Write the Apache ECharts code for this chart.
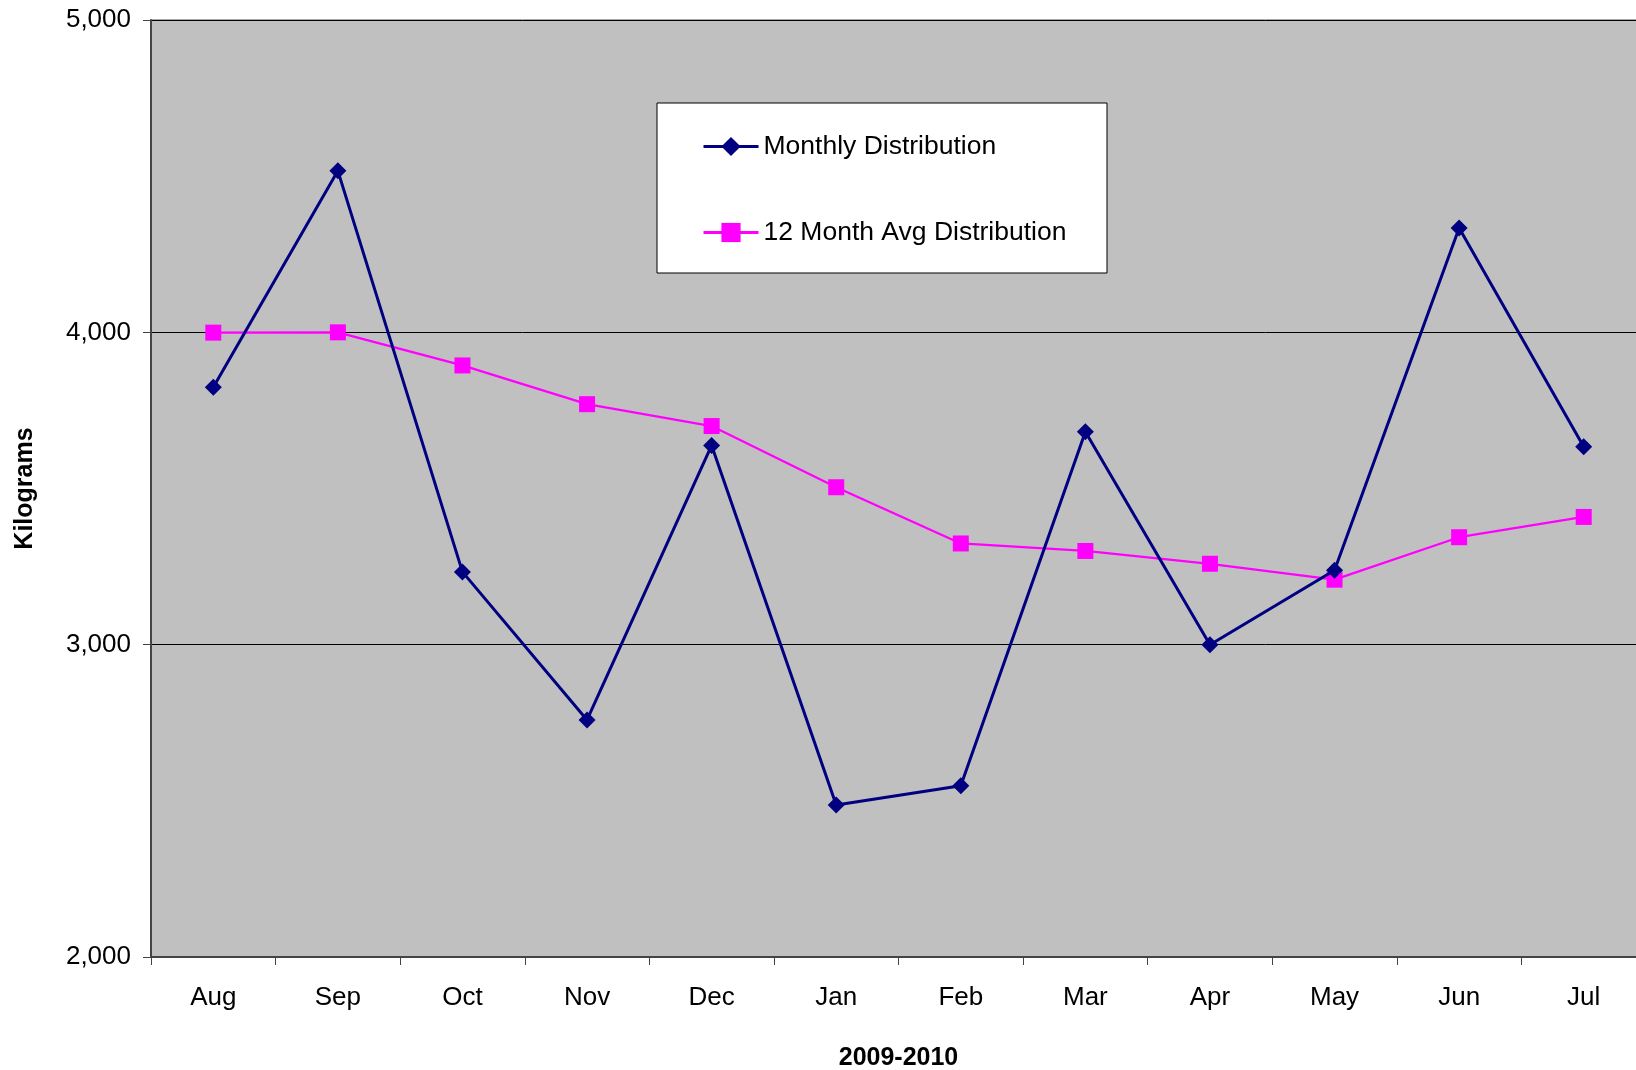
<!DOCTYPE html>
<html>
<head>
<meta charset="utf-8">
<script src="https://cdn.jsdelivr.net/npm/echarts@6/dist/echarts.min.js"></script>
<style>
html,body{margin:0;padding:0;background:#fff;}
#chart{width:1636px;height:1070px;}
</style>
</head>
<body>
<div id="chart"></div>
<script>
const categories = ['Aug','Sep','Oct','Nov','Dec','Jan','Feb','Mar','Apr','May','Jun','Jul'];
const monthlyDistribution = [3824, 4517, 3233, 2759, 3638, 2487, 2548, 3682, 3000, 3238, 4334, 3634];
const avgDistribution = [3999, 4000, 3894, 3770, 3700, 3504, 3324, 3300, 3259, 3208, 3344, 3409];
const seriesNames = ['Monthly Distribution', '12 Month Avg Distribution'];
const yMin = 2000, yMax = 5000, yInterval = 1000;

const FONT = '"Liberation Sans", Arial, sans-serif';
const chart = echarts.init(document.getElementById('chart'), null, {renderer: 'canvas'});
chart.setOption({
  animation: false,
  backgroundColor: '#fff',
  textStyle: {fontFamily: FONT, color: '#000'},
  grid: {
    left: 151, top: 20, bottom: 113, right: -10,
    outerBoundsMode: 'none',
    show: true, backgroundColor: '#C0C0C0', borderColor: '#555', borderWidth: 1,
    containLabel: false
  },
  graphic: [{
    type: 'rect', z: 5,
    shape: {x: 657, y: 103, width: 450, height: 170},
    style: {fill: '#fff', stroke: '#000', lineWidth: 1}
  }],
  legend: {
    z: 10,
    orient: 'vertical',
    left: 702, top: 133,
    padding: 0,
    itemGap: 59,
    itemWidth: 55, itemHeight: 24,
    lineStyle: {width: 3},
    textStyle: {fontSize: 26.5, fontFamily: FONT, color: '#000', lineHeight: 27},
    data: seriesNames
  },
  xAxis: {
    type: 'category',
    data: categories,
    boundaryGap: true,
    axisLine: {show: true, lineStyle: {color: '#444', width: 2}},
    axisTick: {show: true, inside: false, length: 8, alignWithLabel: false, lineStyle: {color: '#444', width: 1}},
    axisLabel: {fontSize: 26, color: '#000', margin: 28, fontFamily: FONT},
    splitLine: {show: false},
    name: '2009-2010',
    nameLocation: 'middle',
    nameGap: 89,
    nameTextStyle: {fontSize: 25, fontWeight: 'bold', color: '#000', fontFamily: FONT}
  },
  yAxis: {
    type: 'value',
    min: yMin, max: yMax, interval: yInterval,
    axisLine: {show: true, lineStyle: {color: '#444', width: 2}},
    axisTick: {show: true, inside: false, length: 8, lineStyle: {color: '#444', width: 1}},
    axisLabel: {
      fontSize: 26, color: '#000', margin: 20, fontFamily: FONT,
      formatter: v => v.toLocaleString('en-US')
    },
    splitLine: {show: true, lineStyle: {color: '#000', width: 1}},
    name: 'Kilograms',
    nameLocation: 'middle',
    nameGap: 113,
    nameTextStyle: {fontSize: 25, fontWeight: 'bold', color: '#000', fontFamily: FONT}
  },
  series: [
    {
      name: seriesNames[0],
      type: 'line',
      data: monthlyDistribution,
      symbol: 'diamond',
      symbolSize: 17,
      color: '#000080',
      lineStyle: {color: '#000080', width: 3},
      itemStyle: {color: '#000080'},
      z: 3
    },
    {
      name: seriesNames[1],
      type: 'line',
      data: avgDistribution,
      symbol: 'rect',
      symbolSize: 16,
      color: '#FF00FF',
      lineStyle: {color: '#FF00FF', width: 2.3},
      itemStyle: {color: '#FF00FF'},
      z: 2
    }
  ]
});
</script>
</body>
</html>
